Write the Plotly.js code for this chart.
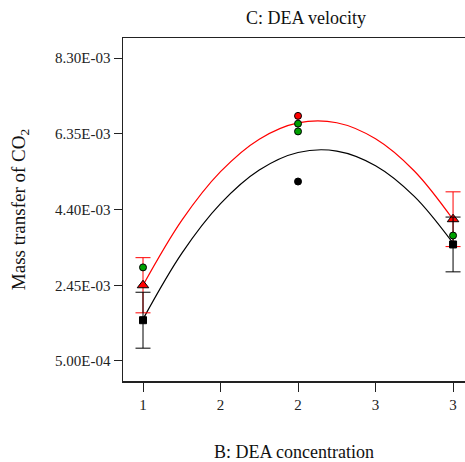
<!DOCTYPE html>
<html>
<head>
<meta charset="utf-8">
<script src="https://cdn.plot.ly/plotly-3.0.1.min.js"></script>
<style>html,body{margin:0;padding:0;background:#fff;}#chart{width:465px;height:462px;}</style>
</head>
<body>
<div id="chart"></div>
<script>
// Curve readings (x = DEA concentration, y = mass transfer of CO2)
var curveX = [1, 1.25, 1.5, 1.75, 2, 2.25, 2.5, 2.75, 3];
var redCurveY = [2.448e-3, 4.119e-3, 5.373e-3, 6.210e-3, 6.630e-3, 6.634e-3, 6.220e-3, 5.390e-3, 4.142e-3];
var blackCurveY = [1.578e-3, 3.272e-3, 4.551e-3, 5.417e-3, 5.868e-3, 5.905e-3, 5.528e-3, 4.738e-3, 3.533e-3];

// Red triangles with error bars
var triX = [1, 3];
var triY = [2.45e-3, 4.15e-3];
var triErr = [0.71e-3, 0.705e-3];

// Black squares with error bars
var sqX = [1, 3];
var sqY = [1.55e-3, 3.50e-3];
var sqErr = [0.72e-3, 0.705e-3];

// Design points
var greenX = [1, 2, 2, 3];
var greenY = [2.91e-3, 6.61e-3, 6.41e-3, 3.73e-3];
var redPtX = [2];
var redPtY = [6.81e-3];
var blackPtX = [2];
var blackPtY = [5.12e-3];

// Tick labels
var xTickVals = [1, 1.5, 2, 2.5, 3];
var xTickText = ['1', '2', '2', '3', '3'];
var yTickVals = [5.0e-4, 2.45e-3, 4.40e-3, 6.35e-3, 8.30e-3];
var yTickText = ['5.00E-04', '2.45E-03', '4.40E-03', '6.35E-03', '8.30E-03'];

var serif = "'Liberation Serif', 'Times New Roman', Times, serif";

var traces = [
  {x: curveX, y: blackCurveY, mode: 'lines', line: {color: '#000', width: 1.2, shape: 'spline'}, hoverinfo: 'skip'},
  {x: curveX, y: redCurveY, mode: 'lines', line: {color: '#ff0000', width: 1.2, shape: 'spline'}, hoverinfo: 'skip'},
  {x: triX, y: triY, mode: 'markers',
   marker: {symbol: 'triangle-up', size: 10, color: '#ff0000', line: {color: '#000', width: 1}},
   error_y: {type: 'data', array: triErr, visible: true, color: '#ff0000', thickness: 1, width: 7.5}},
  {x: sqX, y: sqY, mode: 'markers',
   marker: {symbol: 'square', size: 7, color: '#000', line: {color: '#000', width: 1}},
   error_y: {type: 'data', array: sqErr, visible: true, color: '#000', thickness: 1, width: 7.5}},
  {x: greenX, y: greenY, mode: 'markers',
   marker: {symbol: 'circle', size: 7, color: '#00a000', line: {color: '#000', width: 1}}},
  {x: redPtX, y: redPtY, mode: 'markers',
   marker: {symbol: 'circle', size: 7, color: '#ff0000', line: {color: '#000', width: 1}}},
  {x: blackPtX, y: blackPtY, mode: 'markers',
   marker: {symbol: 'circle', size: 7, color: '#000', line: {color: '#000', width: 1}}}
];

var layout = {
  width: 465, height: 462,
  margin: {l: 123, r: 0, t: 38, b: 81},
  showlegend: false,
  paper_bgcolor: '#fff', plot_bgcolor: '#fff',
  font: {family: serif, color: '#222', size: 15},
  title: {text: 'C: DEA velocity', font: {family: serif, size: 18, color: '#111'}, x: 0.658, xanchor: 'center', y: 0.962, yanchor: 'middle'},
  xaxis: {
    range: [0.871, 3.077], showgrid: false, zeroline: false,
    showline: true, linecolor: '#222', linewidth: 1.5, mirror: true,
    ticks: 'outside', ticklen: 9, tickcolor: '#222', tickwidth: 1,
    tickmode: 'array', tickvals: xTickVals, ticktext: xTickText,
    tickfont: {family: serif, size: 15, color: '#222'},
    title: {text: 'B: DEA concentration', font: {family: serif, size: 18, color: '#111'}, standoff: 34}
  },
  yaxis: {
    range: [-1.5e-5, 8.815e-3], showgrid: false, zeroline: false,
    showline: true, linecolor: '#222', linewidth: 1.5,
    ticks: 'outside', ticklen: 8, tickcolor: '#222', tickwidth: 1,
    tickmode: 'array', tickvals: yTickVals, ticktext: yTickText,
    tickfont: {family: serif, size: 15, color: '#222'},
    title: {text: 'Mass transfer of CO<sub>2</sub>', font: {family: serif, size: 19, color: '#111'}, standoff: 24}
  }
};

Plotly.newPlot('chart', traces, layout, {staticPlot: true, displayModeBar: false});
</script>
</body>
</html>
